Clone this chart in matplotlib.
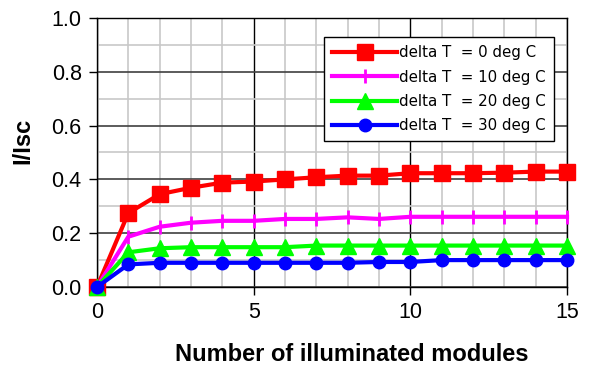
import matplotlib
matplotlib.use("Agg")
import matplotlib.pyplot as plt
from matplotlib.ticker import MultipleLocator

plt.rcParams['font.family'] = ['Liberation Sans', 'DejaVu Sans']

x = list(range(16))
red = [0.0, 0.275, 0.345, 0.369, 0.388, 0.392, 0.400, 0.408, 0.414, 0.414, 0.423, 0.423, 0.423, 0.425, 0.429, 0.429]
magenta = [0.0, 0.187, 0.224, 0.239, 0.246, 0.246, 0.253, 0.253, 0.259, 0.253, 0.261, 0.261, 0.261, 0.261, 0.261, 0.261]
green = [0.0, 0.129, 0.144, 0.148, 0.148, 0.148, 0.148, 0.154, 0.154, 0.154, 0.154, 0.154, 0.154, 0.154, 0.154, 0.154]
blue = [0.0, 0.084, 0.090, 0.090, 0.090, 0.090, 0.090, 0.090, 0.090, 0.093, 0.093, 0.100, 0.100, 0.100, 0.100, 0.100]
labels = ["delta T  = 0 deg C", "delta T  = 10 deg C", "delta T  = 20 deg C", "delta T  = 30 deg C"]

fig = plt.figure(figsize=(5.9, 3.69), dpi=100)
ax = fig.add_axes([97/590, 1-287/369, 470/590, 269/369])

ax.plot(x, red, color='#ff0000', lw=3, marker='s', ms=11, label=labels[0], clip_on=False, zorder=5)
ax.plot(x, magenta, color='#ff00ff', lw=3, marker='|', ms=10, mew=2, label=labels[1], clip_on=False, zorder=6)
ax.plot(x, green, color='#00ff00', lw=3, marker='^', ms=11, label=labels[2], clip_on=False, zorder=7)
ax.plot(x, blue, color='#0000ff', lw=3, marker='o', ms=9, label=labels[3], clip_on=False, zorder=8)

ax.set_xlim(0, 15)
ax.set_ylim(0, 1.0)
ax.xaxis.set_major_locator(MultipleLocator(5))
ax.xaxis.set_minor_locator(MultipleLocator(1))
ax.yaxis.set_major_locator(MultipleLocator(0.2))
ax.yaxis.set_minor_locator(MultipleLocator(0.1))
ax.yaxis.set_major_formatter(matplotlib.ticker.FormatStrFormatter('%.1f'))

ax.grid(which='minor', color='#c8c8c8', lw=1.2)
ax.grid(which='major', axis='x', color='black', lw=1)
ax.grid(which='major', axis='y', color='#404040', lw=1.2)
ax.set_axisbelow(True)

ax.tick_params(which='major', direction='out', length=6, width=1, labelsize=15.5, pad=5)
ax.tick_params(which='minor', length=0)
for s in ax.spines.values():
    s.set_color('black')
    s.set_linewidth(1)

ax.set_xlabel('Number of illuminated modules', fontsize=17, fontweight='bold')
ax.xaxis.set_label_coords((351.5 - 97) / 470, (287 - 343) / 269)
ax.set_ylabel('I/Isc', fontsize=17, fontweight='bold')
ax.yaxis.set_label_coords((34 - 97) / 470, (287 - 140.5) / 269)

leg = ax.legend(loc='upper left', bbox_to_anchor=(324/590, 1-37/369), bbox_transform=fig.transFigure,
                prop={'family': 'DejaVu Sans', 'size': 10.8}, frameon=True, fancybox=False,
                edgecolor='black', framealpha=1,
                handlelength=4.3, handletextpad=0.15, borderaxespad=0, labelspacing=0.62,
                borderpad=0.55)
leg.get_frame().set_linewidth(1)
leg.set_zorder(20)

fig.savefig('out.png', dpi=100)
